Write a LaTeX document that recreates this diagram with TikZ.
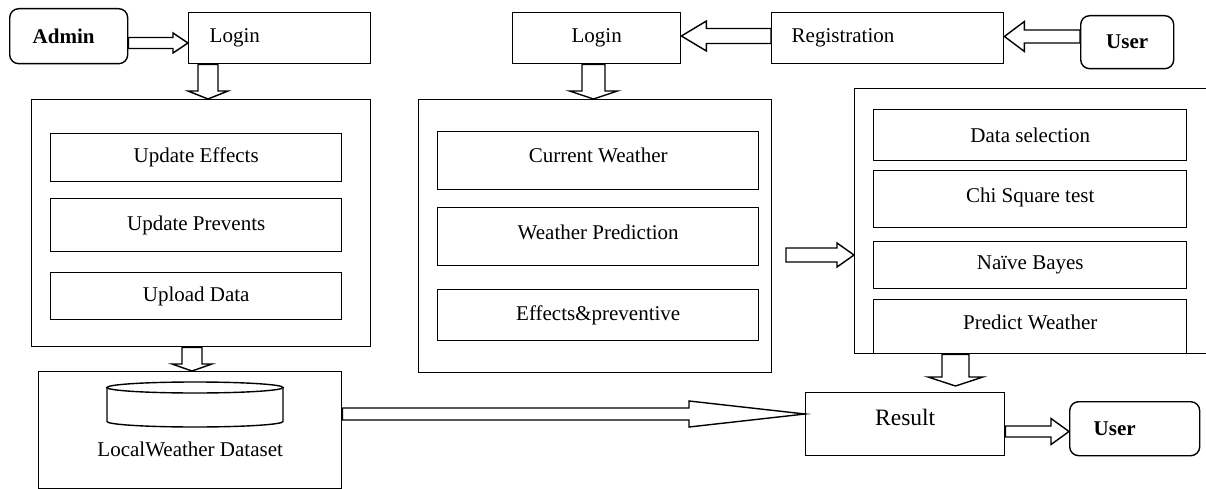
\documentclass[tikz,border=0pt]{standalone}
\usepackage{fontspec}
\setmainfont{Liberation Serif}
\usetikzlibrary{calc}
\newcommand\fsz{\fontsize{21}{25}\selectfont}
\newcommand\blkR[5]{\draw[blk] ($(#1)+(0,-#3)$) -- ($(#2)+(-#4,-#3)$) -- ($(#2)+(-#4,-#5)$) -- (#2) -- ($(#2)+(-#4,#5)$) -- ($(#2)+(-#4,#3)$) -- ($(#1)+(0,#3)$) -- cycle;}
\newcommand\blkL[5]{\draw[blk] ($(#1)+(0,-#3)$) -- ($(#2)+(#4,-#3)$) -- ($(#2)+(#4,-#5)$) -- (#2) -- ($(#2)+(#4,#5)$) -- ($(#2)+(#4,#3)$) -- ($(#1)+(0,#3)$) -- cycle;}
\newcommand\blkD[5]{\draw[blk] ($(#1)+(-#3,0)$) -- ($(#2)+(-#3,-#4)$) -- ($(#2)+(-#5,-#4)$) -- (#2) -- ($(#2)+(#5,-#4)$) -- ($(#2)+(#3,-#4)$) -- ($(#1)+(#3,0)$) -- cycle;}
\tikzset{
  box/.style={draw, line width=1.4pt, inner sep=0pt, anchor=north west, font=\fsz, fill=white},
  rbox/.style={box, rounded corners=9pt},
  blk/.style={draw, line width=1.4pt, fill=white, line join=miter},
}
\begin{document}
\begin{tikzpicture}[x=1pt, y=-1pt]
\useasboundingbox (0,0) rectangle (1206,489);
% top row
\node[rbox, minimum width=118, minimum height=55, inner xsep=23, text width=72, align=left, font=\fsz\bfseries] (admin) at (9,8) {Admin};
\node[box, minimum width=182, minimum height=51, inner xsep=21, text width=140, align=left] (loginA) at (188,12) {Login};
\node[box, minimum width=168, minimum height=51] (loginB) at (512,12) {Login};
\node[box, minimum width=232, minimum height=51, inner xsep=20, text width=192, align=left] (reg) at (771,12) {Registration};
\node[rbox, minimum width=93, minimum height=53, font=\fsz\bfseries] (userT) at (1080,15) {User};
% left panel
\node[box, minimum width=339, minimum height=247] (panelL) at (31,99) {};
\node[box, minimum width=291, minimum height=48] (ue) at (50,133) {Update Effects};
\node[box, minimum width=291, minimum height=53] (up) at (50,198) {Update Prevents};
\node[box, minimum width=291, minimum height=47] (ud) at (50,272) {Upload Data};
% middle panel
\node[box, minimum width=353, minimum height=273] (panelM) at (418,99) {};
\node[box, minimum width=321, minimum height=58, text depth=10pt] (cw) at (437,131) {Current Weather};
\node[box, minimum width=321, minimum height=58, text depth=8pt] (wp) at (437,207) {Weather Prediction};
\node[box, minimum width=321, minimum height=51] (ep) at (437,289) {Effects\&preventive};
% right panel
\node[box, minimum width=370, minimum height=265] (panelR) at (854,88) {};
\node[box, minimum width=313, minimum height=51] (dsel) at (873,109) {Data selection};
\node[box, minimum width=313, minimum height=57, text depth=8pt] (chi) at (873,170) {Chi Square test};
\node[box, minimum width=313, minimum height=47] (nb) at (873,241) {Na\"ive Bayes};
\node[box, minimum width=313, minimum height=54, text depth=8pt] (pw) at (873,299) {Predict Weather};
% dataset
\node[box, minimum width=303, minimum height=117, text height=53pt, text depth=0pt] (lwd) at (38,371) {LocalWeather Dataset};
\draw[line width=1.4pt, fill=white] (107,387.5) -- (107,421.5) arc[start angle=180, end angle=360, x radius=88pt, y radius=5.5pt] -- (283,387.5);
\draw[line width=1.4pt] (195,387.5) ellipse [x radius=88pt, y radius=5.5pt];
% result and user
\node[box, minimum width=199, minimum height=63, font=\fontsize{23.5}{28}\selectfont, text depth=13pt] (result) at (805,392) {Result};
\node[rbox, minimum width=130, minimum height=54, inner xsep=24, text width=82, align=left, font=\fsz\bfseries] (userB) at (1069,401) {User};
% arrows
\coordinate (a1s) at (admin.east |- 0,43); \coordinate (a1e) at (loginA.west |- 0,43);
\blkR{a1s}{a1e}{5.5}{15}{10}
\coordinate (a2s) at (208,0 |- loginA.south); \coordinate (a2e) at (208,0 |- panelL.north);
\blkD{a2s}{a2e}{10}{8}{20}
\coordinate (a3s) at (593.5,0 |- loginB.south); \coordinate (a3e) at (593.5,0 |- panelM.north);
\blkD{a3s}{a3e}{11.5}{8}{24}
\coordinate (a4s) at (reg.west |- 0,36); \coordinate (a4e) at (loginB.east |- 0,36);
\blkL{a4s}{a4e}{7.5}{25}{15}
\coordinate (a5s) at (userT.west |- 0,36.5); \coordinate (a5e) at (reg.east |- 0,36.5);
\blkL{a5s}{a5e}{6.5}{20}{15}
\coordinate (a6s) at (786,255); \coordinate (a6e) at (panelR.west |- 0,255);
\blkR{a6s}{a6e}{7}{17}{12}
\coordinate (a7s) at (192,0 |- panelL.south); \coordinate (a7e) at (192,0 |- lwd.north);
\blkD{a7s}{a7e}{10}{7}{20}
\coordinate (a8s) at (lwd.east |- 0,414); \coordinate (a8e) at (result.west |- 0,414);
\blkR{a8s}{a8e}{6}{116}{13}
\coordinate (a9s) at (955.5,0 |- panelR.south); \coordinate (a9e) at (955.5,386);
\blkD{a9s}{a9e}{13.5}{9}{27.5}
\coordinate (a10s) at (result.east |- 0,431.5); \coordinate (a10e) at (userB.west |- 0,431.5);
\blkR{a10s}{a10e}{5.5}{18}{13}
\end{tikzpicture}
\end{document}
